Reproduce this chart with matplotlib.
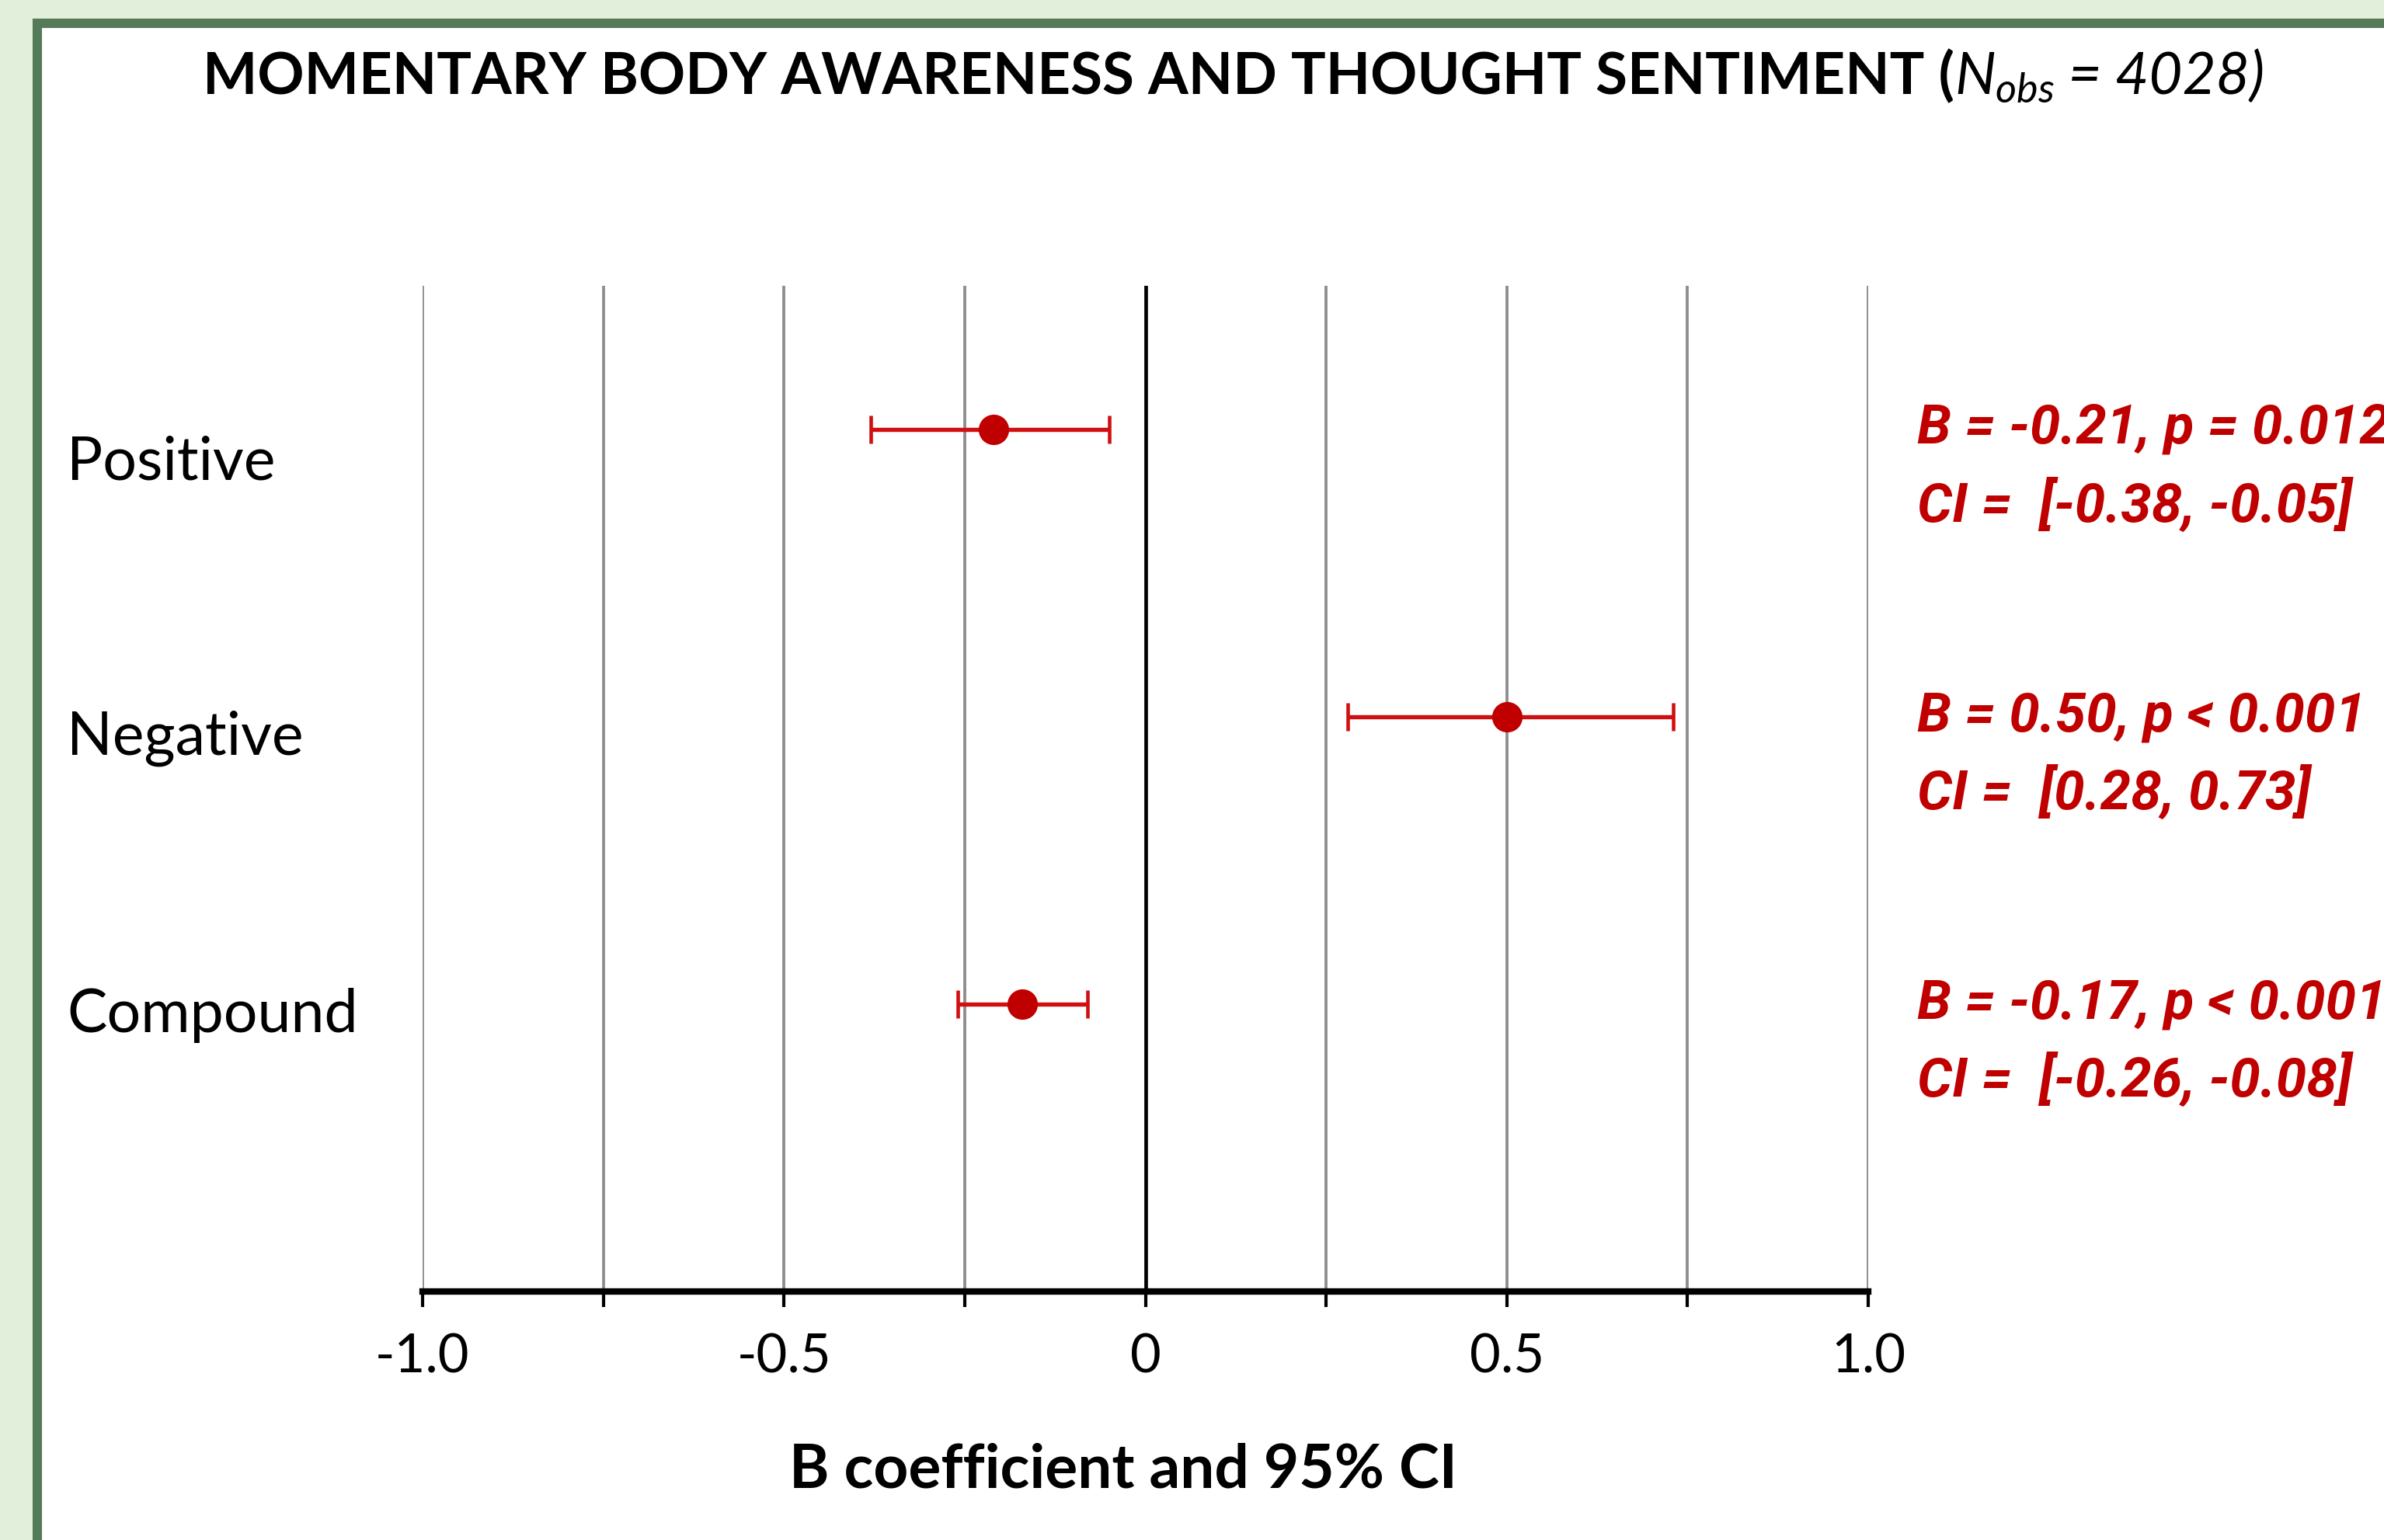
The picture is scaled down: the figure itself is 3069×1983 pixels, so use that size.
import matplotlib
matplotlib.use("Agg")
import matplotlib.pyplot as plt
from matplotlib.patches import Rectangle
from matplotlib.ticker import FixedLocator, FixedFormatter
from matplotlib.transforms import blended_transform_factory

plt.rcParams['font.family'] = ['Lato', 'DejaVu Sans']
plt.rcParams['mathtext.fontset'] = 'custom'
plt.rcParams['mathtext.it'] = 'Lato:italic'
plt.rcParams['mathtext.rm'] = 'Lato'

# data
categories = ['Positive', 'Negative', 'Compound']
b_coef = [-0.21, 0.50, -0.17]
ci_low = [-0.38, 0.28, -0.26]
ci_high = [-0.05, 0.73, -0.08]
p_text = ['p = 0.012', 'p < 0.001', 'p < 0.001']
xtick_vals = [-1.0, -0.75, -0.5, -0.25, 0.0, 0.25, 0.5, 0.75, 1.0]
xtick_labels = ['-1.0', '', '-0.5', '', '0', '', '0.5', '', '1.0']

W, H = 3069, 1983
DPI = 300
RED = '#c00000'

fig = plt.figure(figsize=(W / DPI, H / DPI), dpi=DPI)
fig.patch.set_facecolor('#e2efda')

# dark green frame with white panel
fig.patches.append(Rectangle((48 / W, -0.05), 1.1, 1 - 30 / H + 0.05,
                             transform=fig.transFigure, facecolor='white',
                             edgecolor='#557a58', linewidth=2.9, zorder=-5))

ax = fig.add_axes([544 / W, 1 - 1663 / H, (2405 - 544) / W, (1663 - 368) / H])
ax.set_zorder(2)
ax.set_facecolor('none')
ax.set_xlim(-1.0, 1.0)
ax.set_ylim(0, 3.5)

ypos = [3, 2, 1]
xerr = [[b - lo for b, lo in zip(b_coef, ci_low)],
        [hi - b for b, hi in zip(b_coef, ci_high)]]
ax.errorbar(b_coef, ypos, xerr=xerr, fmt='o', color=RED, ecolor='#d01010',
            markersize=8.4, elinewidth=1.3, capsize=4.4, capthick=1.1, zorder=5)

ax.xaxis.set_major_locator(FixedLocator(xtick_vals))
ax.xaxis.set_major_formatter(FixedFormatter(xtick_labels))
ax.grid(axis='x', color='#8c8c8c', linewidth=0.9)
ax.axvline(0, color='black', linewidth=1.1, zorder=2)
ax.set_axisbelow(True)
for s in ['top', 'right', 'left']:
    ax.spines[s].set_visible(False)
ax.spines['bottom'].set_linewidth(2.0)
ax.tick_params(axis='x', direction='out', length=4.8, width=1.0, pad=8,
               labelsize=16.5)
ax.tick_params(axis='y', left=False, labelleft=False)

fig.text(1446 / W, 1 - 1894 / H, 'B coefficient and 95% CI', ha='center',
         va='center', fontsize=18.8, fontweight='bold')

tr = blended_transform_factory(fig.transFigure, ax.transData)

# category labels on the left (sit a little below their rows)
label_shift = [-0.115, -0.075, -0.04]
for cat, y, dy in zip(categories, ypos, label_shift):
    ax.text(86 / W, y + dy, cat, transform=tr, ha='left', va='center',
            fontsize=18.5, clip_on=False)

# annotation text on the right
ann_font = dict(fontsize=17, fontweight='bold', fontstyle='italic',
                color=RED, family=['Roboto', 'DejaVu Sans'],
                clip_on=False, transform=tr, ha='left', va='center')
for b, lo, hi, p, y in zip(b_coef, ci_low, ci_high, p_text, ypos):
    ax.text(2468 / W, y, f'B = {b:.2f}, {p}', **ann_font)
    ax.text(2468 / W, y - 0.265, f'CI =  [{lo:.2f}, {hi:.2f}]', **ann_font)

# title in three pieces: bold, italic N_obs, italic rest
fig.canvas.draw()
renderer = fig.canvas.get_renderer()
ty = 1 - 121 / H
t1 = fig.text(0, ty, 'MOMENTARY BODY AWARENESS AND THOUGHT SENTIMENT (',
              fontsize=17.9, fontweight='bold', ha='left', va='baseline')
t2 = fig.text(0, ty, r'$N_{obs}$', fontsize=17.9, ha='left', va='baseline')
t3 = fig.text(0, ty, ' = 4028)', fontsize=17.9, fontstyle='italic',
              ha='left', va='baseline')
widths = [t.get_window_extent(renderer).width / W for t in (t1, t2, t3)]
x = 1588 / W - sum(widths) / 2
for t, w in zip((t1, t2, t3), widths):
    t.set_x(x)
    x += w

fig.savefig('out.png', dpi=DPI)
